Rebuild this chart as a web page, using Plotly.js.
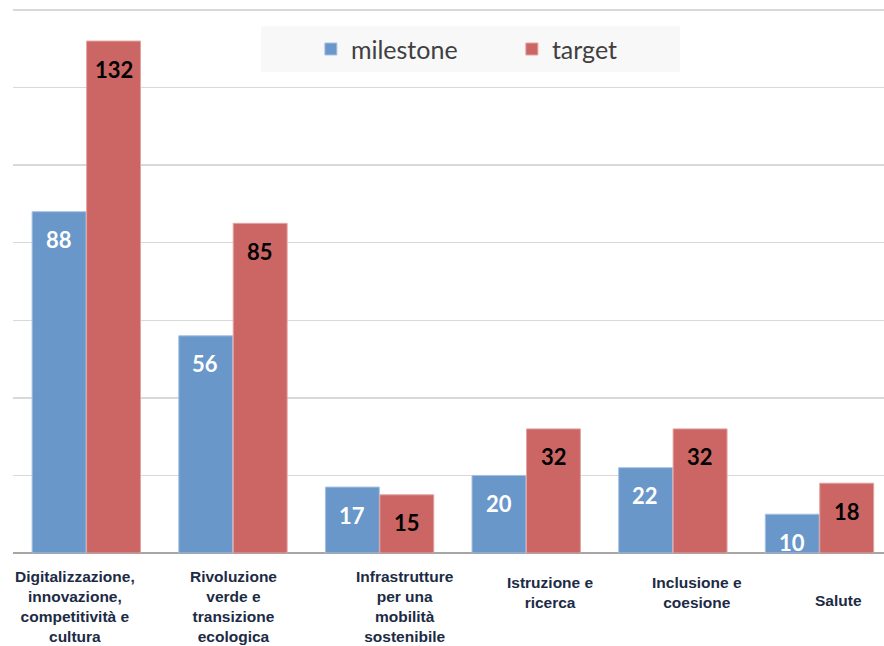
<!DOCTYPE html>
<html>
<head>
<meta charset="utf-8">
<script src="https://cdn.plot.ly/plotly-3.0.1.min.js"></script>
<style>
html,body{margin:0;padding:0;background:#fff;}
#chart{width:884px;height:646px;}
</style>
</head>
<body>
<div id="chart"></div>
<script>
// ---- data ----
const categories = ["Digitalizzazione", "Rivoluzione verde", "Infrastrutture", "Istruzione", "Inclusione", "Salute"];
const categoryLabels = [
  "Digitalizzazione,<br>innovazione,<br>competitività e<br>cultura",
  "Rivoluzione<br>verde e<br>transizione<br>ecologica",
  "Infrastrutture<br>per una<br>mobilità<br>sostenibile",
  "Istruzione e<br>ricerca",
  "Inclusione e<br>coesione",
  "Salute"
];
const milestone = [88, 56, 17, 20, 22, 10];
const target = [132, 85, 15, 32, 32, 18];
const seriesNames = ["milestone", "target"];

// ---- style ----
const blue = "#6997c9", red = "#cb6664";
const labelXShift = [-11, 1, 25, 24, 24, 19];
const labelYShift = [-13, -13, -13, -19, -19, -37];
const barHalf = 27.5;

const traces = [
  {type: "bar", name: seriesNames[0], x: categories, y: milestone,
   marker: {color: blue, line: {color: "#a8c1e2", width: 1}}, hoverinfo: "y"},
  {type: "bar", name: seriesNames[1], x: categories, y: target,
   marker: {color: red, line: {color: "#e3a3a2", width: 1}}, hoverinfo: "y"}
];

const annotations = [];
categories.forEach((c, i) => {
  annotations.push({x: c, y: milestone[i], xref: "x", yref: "y", text: String(milestone[i]),
    showarrow: false, xshift: -barHalf, yshift: -28, yanchor: "middle",
    font: {family: "Lato, 'Open Sans', sans-serif", size: 22, color: "#ffffff", weight: "bold"}});
  annotations.push({x: c, y: target[i], xref: "x", yref: "y", text: String(target[i]),
    showarrow: false, xshift: barHalf, yshift: -28, yanchor: "middle",
    font: {family: "Lato, 'Open Sans', sans-serif", size: 22, color: "#000000", weight: "bold"}});
  annotations.push({x: c, y: 0, xref: "x", yref: "paper", text: "<b>" + categoryLabels[i] + "</b>",
    showarrow: false, xshift: labelXShift[i], yshift: labelYShift[i], yanchor: "top", align: "center",
    font: {family: "'Liberation Sans', Arial, sans-serif", size: 15.5, color: "#1c2b45"}});
});

const layout = {
  width: 884, height: 646,
  margin: {l: 13, r: 0, t: 9, b: 93},
  paper_bgcolor: "#ffffff", plot_bgcolor: "#ffffff",
  barmode: "group", bargap: 0.257, bargroupgap: 0.01,
  showlegend: true,
  legend: {orientation: "h", x: 0.342, xanchor: "left", y: 0.926, yanchor: "middle",
    bgcolor: "rgba(0,0,0,0)", entrywidth: 156, entrywidthmode: "pixels",
    font: {family: "Lato, sans-serif", size: 25, color: "#404040"}},
  xaxis: {type: "category", range: [-0.5, 5.44], showticklabels: false, showgrid: false,
    zeroline: false, showline: false, ticks: ""},
  yaxis: {range: [0, 140.26], tickvals: [20, 40, 60, 80, 100, 120, 140], showticklabels: false, showgrid: true,
    gridcolor: "#d9d9d9", gridwidth: 1.5, zeroline: true, zerolinecolor: "#a6a6a6",
    zerolinewidth: 2, showline: false, ticks: ""},
  shapes: [{type: "rect", xref: "paper", yref: "paper", x0: 0.2847, x1: 0.7658, y0: 0.884, y1: 0.9687,
    fillcolor: "#f8f8f8", line: {width: 0}, layer: "below"}],
  annotations: annotations
};

Plotly.newPlot("chart", traces, layout, {displayModeBar: false, staticPlot: true});
</script>
</body>
</html>
